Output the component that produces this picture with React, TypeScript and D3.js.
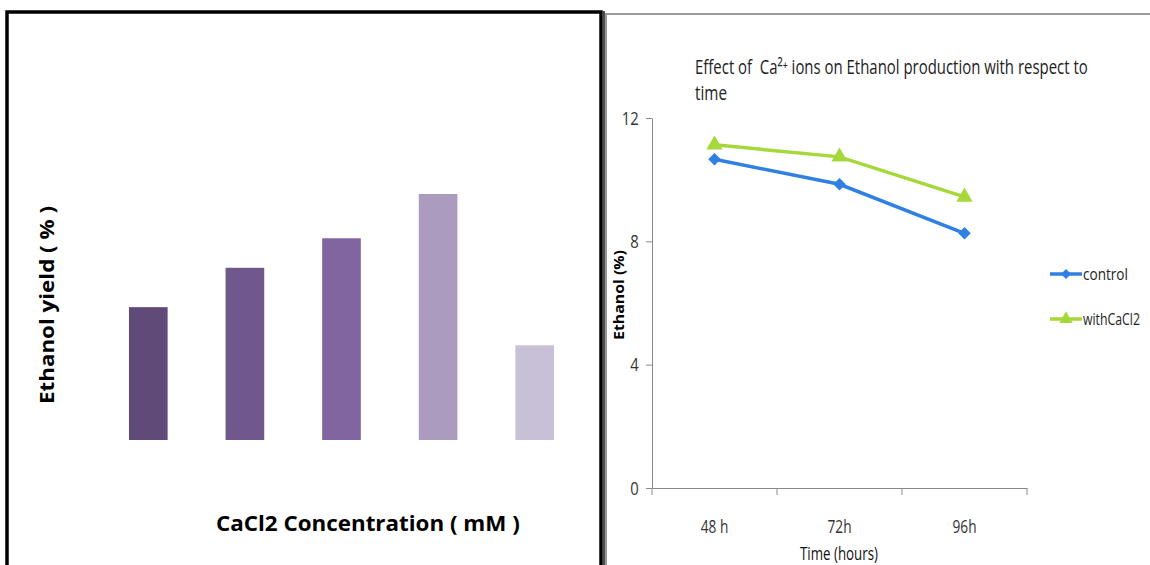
import { useEffect, useRef } from 'react';
import * as d3 from 'd3';

// left panel: bar chart (no tick labels in the original)
const concentrations = ['c1', 'c2', 'c3', 'c4', 'c5'];
const yieldValues = [5.4, 7.0, 8.2, 10.0, 3.85];
const barColors = ['#5f4a78', '#70588c', '#8065a0', '#aa9bbf', '#c8c0d6'];

// right panel: line chart
const times = ['48 h', '72h', '96h'];
const controlValues = [10.66, 9.85, 8.26];
const caclValues = [11.13, 10.74, 9.44];
const yTicks = [0, 4, 8, 12];
const seriesNames = ['control', 'withCaCl2'];
const seriesColors = ['#2f80e2', '#a6d83a'];

const W = 1150;
const H = 565;
const font = "'Open Sans', 'DejaVu Sans', sans-serif";

// squeeze a text horizontally so it spans `width` px
const fit = (sel, x, y, width, rotate = 0) => {
  const w = sel.node().getComputedTextLength();
  const k = w > 0 ? width / w : 1;
  sel
    .attr('x', 0)
    .attr('y', 0)
    .attr('transform', `translate(${x}, ${y}) rotate(${rotate}) scale(${k}, 1)`);
};

const App = () => {
  const ref = useRef(null);

  useEffect(() => {
    if (!ref.current) return;
    const svg = d3.select(ref.current);
    svg.selectAll('*').remove();
    svg.attr('width', W).attr('height', H);
    svg.append('rect').attr('width', W).attr('height', H).attr('fill', '#fff');

    // ---------- left panel ----------
    svg
      .append('path')
      .attr('d', `M7,${H} V12 H601 V${H}`)
      .attr('fill', 'none')
      .attr('stroke', '#000')
      .attr('stroke-width', 3.5);

    const xBar = d3
      .scaleBand()
      .domain(concentrations)
      .range([100, 583])
      .paddingInner(0.6)
      .paddingOuter(0.3);
    const yBar = d3.scaleLinear().domain([0, 10]).range([440, 194]);

    svg
      .selectAll('.bar')
      .data(yieldValues)
      .enter()
      .append('rect')
      .attr('class', 'bar')
      .attr('x', (d, i) => xBar(concentrations[i]))
      .attr('y', (d) => yBar(d))
      .attr('width', xBar.bandwidth())
      .attr('height', (d) => yBar(0) - yBar(d))
      .attr('fill', (d, i) => barColors[i]);

    const yTitle = svg
      .append('text')
      .attr('text-anchor', 'middle')
      .attr('font-family', font)
      .attr('font-weight', 'bold')
      .attr('font-size', 19)
      .text('Ethanol yield ( % )');
    fit(yTitle, 54, 305, 198, -90);

    const xTitle = svg
      .append('text')
      .attr('font-family', font)
      .attr('font-weight', 'bold')
      .attr('font-size', 21)
      .text('CaCl2 Concentration ( mM )');
    fit(xTitle, 216, 531, 304);

    // ---------- right panel ----------
    svg
      .append('line')
      .attr('x1', 604).attr('x2', 604).attr('y1', 11).attr('y2', H)
      .attr('stroke', '#111').attr('stroke-width', 1.5);
    svg
      .append('path')
      .attr('d', `M606,${H} V14 H${W}`)
      .attr('fill', 'none')
      .attr('stroke', '#9a9a9a')
      .attr('stroke-width', 2);

    const t1 = svg
      .append('text')
      .attr('font-family', font)
      .attr('font-size', 20)
      .attr('fill', '#222')
      .text('Effect of\u00a0 Ca²⁺ ions on Ethanol production with respect to');
    fit(t1, 695, 74, 393);
    const t2 = svg
      .append('text')
      .attr('font-family', font)
      .attr('font-size', 20)
      .attr('fill', '#222')
      .text('time');
    fit(t2, 695, 100, 32);

    const xLine = d3.scaleBand().domain(times).range([652, 1027]);
    const yLine = d3.scaleLinear().domain([0, 12]).range([488, 118]);

    const yAxis = svg
      .append('g')
      .attr('transform', 'translate(652, 0)')
      .call(d3.axisLeft(yLine).tickValues(yTicks).tickSize(6).tickSizeOuter(0).tickPadding(6));
    yAxis.select('.domain').attr('stroke', '#8a8a8a');
    yAxis.selectAll('.tick line').attr('stroke', '#8a8a8a');
    yAxis
      .selectAll('.tick text')
      .attr('font-family', font)
      .attr('font-size', 19)
      .attr('fill', '#333')
      .attr('transform', 'scale(0.78,1)')
      .attr('x', -17);

    const xAxis = svg
      .append('g')
      .attr('transform', 'translate(0, 488)')
      .call(d3.axisBottom(xLine).tickSize(0).tickSizeOuter(0).tickPadding(32));
    xAxis.select('.domain').attr('stroke', '#8a8a8a');
    xAxis
      .selectAll('.tick text')
      .attr('font-family', font)
      .attr('font-size', 19)
      .attr('fill', '#333')
      .attr('transform', 'scale(0.72,1)');
    // boundary tick marks between categories
    xAxis
      .selectAll('.sep')
      .data([...times.map((t) => xLine(t)), xLine.range()[1]])
      .enter()
      .append('line')
      .attr('class', 'sep')
      .attr('x1', (d) => d)
      .attr('x2', (d) => d)
      .attr('y1', 0)
      .attr('y2', 7)
      .attr('stroke', '#8a8a8a');

    const tTitle = svg
      .append('text')
      .attr('font-family', font)
      .attr('font-size', 18)
      .attr('fill', '#111')
      .text('Time (hours)');
    fit(tTitle, 800, 560, 78);

    const eTitle = svg
      .append('text')
      .attr('text-anchor', 'middle')
      .attr('font-family', font)
      .attr('font-weight', 'bold')
      .attr('font-size', 15)
      .text('Ethanol (%)');
    fit(eTitle, 624, 295, 90, -90);

    const cx = (t) => xLine(t) + xLine.bandwidth() / 2;
    const line = d3
      .line()
      .x((d, i) => cx(times[i]))
      .y((d) => yLine(d));
    const symbols = [d3.symbolDiamond2, d3.symbolTriangle];
    const series = [controlValues, caclValues];

    series.forEach((vals, s) => {
      svg
        .append('path')
        .attr('d', line(vals))
        .attr('fill', 'none')
        .attr('stroke', seriesColors[s])
        .attr('stroke-width', 3.5);
      svg
        .selectAll(`.m${s}`)
        .data(vals)
        .enter()
        .append('path')
        .attr('class', `m${s}`)
        .attr('transform', (d, i) => `translate(${cx(times[i])}, ${yLine(d)})`)
        .attr('d', d3.symbol(symbols[s], s === 0 ? 100 : 115)())
        .attr('fill', seriesColors[s]);
    });

    // legend
    const legend = svg
      .selectAll('.leg')
      .data(seriesNames)
      .enter()
      .append('g')
      .attr('class', 'leg')
      .attr('transform', (d, i) => `translate(1050, ${274 + i * 45})`);
    legend
      .append('line')
      .attr('x1', 0)
      .attr('x2', 32)
      .attr('stroke', (d, i) => seriesColors[i])
      .attr('stroke-width', 3.5);
    legend
      .append('path')
      .attr('transform', 'translate(16, 0)')
      .attr('d', (d, i) => d3.symbol(symbols[i], i === 0 ? 65 : 80)())
      .attr('fill', (d, i) => seriesColors[i]);
    legend
      .append('text')
      .attr('font-family', font)
      .attr('font-size', 17)
      .attr('fill', '#222')
      .text((d) => d)
      .each(function (d) {
        fit(d3.select(this), 33, 6, d === 'control' ? 45 : 57);
      });
  }, []);

  return (
    <div style={{ position: 'absolute', left: 0, top: 0 }}>
      <svg ref={ref} style={{ display: 'block' }} />
    </div>
  );
};

export default App;
